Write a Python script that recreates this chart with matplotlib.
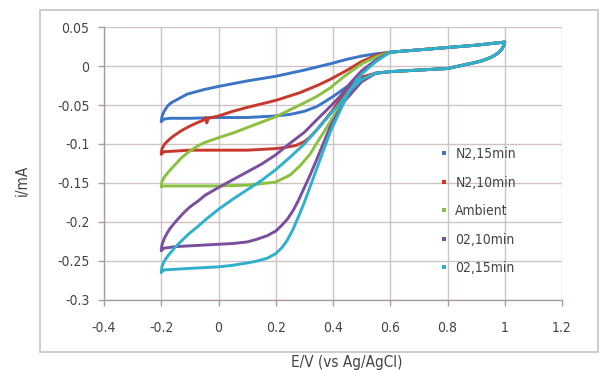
import matplotlib
matplotlib.use("Agg")
import matplotlib.pyplot as plt
from matplotlib.lines import Line2D
from matplotlib.patches import Rectangle
from matplotlib import font_manager

names = {f.name for f in font_manager.fontManager.ttflist}
FONT = ['Liberation Sans Narrow', 'DejaVu Sans'] if 'Liberation Sans Narrow' in names else ['DejaVu Sans']
plt.rcParams['font.family'] = FONT
plt.rcParams['font.stretch'] = 'condensed'

# ---------------- data ----------------
labels = ["N2,15min", "N2,10min", "Ambient", "02,10min", "02,15min"]
colors = ["#3b76c6", "#c8382c", "#8cc040", "#7a4f9e", "#2fb0cc"]

# shared high-potential part of every loop
common_up_x = [0.6, 0.7, 0.8, 0.9, 1.0]
common_up_y = [0.018, 0.021, 0.024, 0.027, 0.031]
common_down_x = [0.997, 0.99, 0.98, 0.965, 0.95, 0.92, 0.9, 0.85, 0.8, 0.7, 0.6, 0.55]
common_down_y = [0.027, 0.022, 0.018, 0.014, 0.011, 0.007, 0.005, 0.001, -0.003, -0.005, -0.007, -0.009]

# N2, 15 min
n2_15_up_x = [-0.2, -0.198, -0.195, -0.19, -0.183, -0.175, -0.165, -0.15, -0.13, -0.11, -0.08, -0.05, 0.0, 0.1, 0.2, 0.3, 0.4, 0.45, 0.5, 0.55]
n2_15_up_y = [-0.071, -0.066, -0.062, -0.058, -0.054, -0.050, -0.047, -0.044, -0.040, -0.036, -0.033, -0.030, -0.026, -0.019, -0.013, -0.005, 0.004, 0.009, 0.013, 0.016]
n2_15_dn_x = [0.5, 0.45, 0.4, 0.37, 0.343, 0.3, 0.25, 0.2, 0.1, 0.0, -0.1, -0.17, -0.19, -0.2]
n2_15_dn_y = [-0.015, -0.026, -0.039, -0.046, -0.052, -0.058, -0.062, -0.064, -0.066, -0.066, -0.067, -0.067, -0.068, -0.071]

# N2, 10 min
n2_10_up_x = [-0.2, -0.198, -0.19, -0.18, -0.165, -0.15, -0.13, -0.1, -0.07, -0.05, -0.045, -0.041, -0.036, 0.0, 0.05, 0.1, 0.2, 0.285, 0.35, 0.39, 0.45, 0.5, 0.55]
n2_10_up_y = [-0.113, -0.107, -0.101, -0.097, -0.092, -0.088, -0.083, -0.077, -0.072, -0.069, -0.066, -0.073, -0.067, -0.064, -0.058, -0.053, -0.044, -0.034, -0.024, -0.017, -0.005, 0.006, 0.014]
n2_10_dn_x = [0.5, 0.45, 0.42, 0.4, 0.37, 0.343, 0.32, 0.3, 0.27, 0.24, 0.2, 0.1, 0.0, -0.1, -0.19, -0.2]
n2_10_dn_y = [-0.014, -0.030, -0.045, -0.056, -0.070, -0.082, -0.091, -0.097, -0.102, -0.104, -0.106, -0.108, -0.108, -0.108, -0.110, -0.113]

# Ambient
amb_up_x = [-0.2, -0.198, -0.19, -0.175, -0.15, -0.13, -0.1, -0.07, -0.047, 0.0, 0.05, 0.1, 0.15, 0.2, 0.25, 0.3, 0.343, 0.39, 0.436, 0.5, 0.55]
amb_up_y = [-0.155, -0.149, -0.143, -0.136, -0.126, -0.118, -0.109, -0.102, -0.098, -0.092, -0.086, -0.079, -0.072, -0.065, -0.056, -0.047, -0.039, -0.028, -0.014, 0.003, 0.012]
amb_dn_x = [0.5, 0.448, 0.401, 0.366, 0.343, 0.32, 0.285, 0.25, 0.2, 0.15, 0.1, 0.0, -0.1, -0.19, -0.2]
amb_dn_y = [-0.018, -0.039, -0.065, -0.086, -0.099, -0.113, -0.128, -0.140, -0.149, -0.151, -0.153, -0.154, -0.154, -0.154, -0.155]

# O2, 10 min
o2_10_up_x = [-0.2, -0.197, -0.19, -0.18, -0.17, -0.15, -0.123, -0.1, -0.07, -0.047, 0.0, 0.05, 0.1, 0.15, 0.2, 0.25, 0.3, 0.343, 0.39, 0.424, 0.46, 0.5, 0.55]
o2_10_up_y = [-0.237, -0.229, -0.222, -0.215, -0.209, -0.200, -0.189, -0.181, -0.173, -0.166, -0.156, -0.146, -0.136, -0.126, -0.114, -0.099, -0.085, -0.069, -0.052, -0.039, -0.022, -0.006, 0.008]
o2_10_dn_x = [0.5, 0.44, 0.39, 0.343, 0.32, 0.3, 0.28, 0.26, 0.24, 0.22, 0.2, 0.17, 0.13, 0.1, 0.05, -0.05, -0.15, -0.19, -0.2]
o2_10_dn_y = [-0.020, -0.045, -0.078, -0.120, -0.140, -0.156, -0.172, -0.186, -0.197, -0.205, -0.212, -0.218, -0.223, -0.226, -0.228, -0.230, -0.232, -0.234, -0.237]

# O2, 15 min
o2_15_up_x = [-0.2, -0.197, -0.19, -0.175, -0.152, -0.13, -0.105, -0.075, -0.047, 0.0, 0.05, 0.1, 0.15, 0.2, 0.25, 0.3, 0.343, 0.39, 0.424, 0.46, 0.5, 0.55]
o2_15_up_y = [-0.265, -0.257, -0.251, -0.243, -0.233, -0.225, -0.216, -0.207, -0.198, -0.184, -0.171, -0.159, -0.147, -0.133, -0.117, -0.100, -0.082, -0.062, -0.048, -0.030, -0.010, 0.006]
o2_15_dn_x = [0.5, 0.459, 0.436, 0.39, 0.35, 0.325, 0.3, 0.28, 0.26, 0.24, 0.22, 0.2, 0.17, 0.13, 0.1, 0.05, 0.0, -0.1, -0.19, -0.2]
o2_15_dn_y = [-0.017, -0.031, -0.048, -0.085, -0.125, -0.150, -0.175, -0.193, -0.210, -0.224, -0.234, -0.241, -0.247, -0.251, -0.253, -0.256, -0.258, -0.260, -0.262, -0.265]

series = [
    (n2_15_up_x, n2_15_up_y, n2_15_dn_x, n2_15_dn_y),
    (n2_10_up_x, n2_10_up_y, n2_10_dn_x, n2_10_dn_y),
    (amb_up_x, amb_up_y, amb_dn_x, amb_dn_y),
    (o2_10_up_x, o2_10_up_y, o2_10_dn_x, o2_10_dn_y),
    (o2_15_up_x, o2_15_up_y, o2_15_dn_x, o2_15_dn_y),
]

x_ticks = [-0.4, -0.2, 0, 0.2, 0.4, 0.6, 0.8, 1, 1.2]
x_ticklabels = ["-0.4", "-0.2", "0", "0.2", "0.4", "0.6", "0.8", "1", "1.2"]
y_ticks = [0.05, 0, -0.05, -0.1, -0.15, -0.2, -0.25, -0.3]
y_ticklabels = ["0.05", "0", "-0.05", "-0.1", "-0.15", "-0.2", "-0.25", "-0.3"]

# ---------------- figure ----------------
W, H = 599, 372
fig = plt.figure(figsize=(W / 100, H / 100), dpi=100)
fig.patch.set_facecolor("white")

# chart area border (Excel style)
fig.add_artist(Rectangle((40 / W, 1 - 352 / H), (598 - 40) / W, (352 - 10) / H,
                         transform=fig.transFigure, fill=False,
                         edgecolor="#c4c4c4", lw=1.2))

ax = fig.add_axes([104 / W, 1 - 299.5 / H, (562 - 104) / W, (299.5 - 27.3) / H])
ax.set_facecolor("white")

for (ux, uy, dx, dy), c in zip(series, colors):
    xs = list(ux) + common_up_x + common_down_x + list(dx)
    ys = list(uy) + common_up_y + common_down_y + list(dy)
    ax.plot(xs, ys, color=c, lw=2.1, solid_joinstyle="round", solid_capstyle="round", zorder=3)

ax.set_xlim(-0.4, 1.2)
ax.set_ylim(-0.3, 0.05)
ax.set_xticks(x_ticks)
ax.set_xticklabels(x_ticklabels)
ax.set_yticks(y_ticks)
ax.set_yticklabels(y_ticklabels)

gridc = "#cfc4c4"
ax.grid(True, color=gridc, lw=1.0, zorder=0)
for s in ["top", "right"]:
    ax.spines[s].set_visible(False)
for s in ["left", "bottom"]:
    ax.spines[s].set_color("#a89c9c")
    ax.spines[s].set_linewidth(1.0)
ax.tick_params(axis="both", direction="out", length=4.5, width=1.0, color="#a89c9c",
               labelsize=10, labelcolor="#444444")
ax.tick_params(axis="y", pad=6)
ax.tick_params(axis="x", pad=11)

fig.text(22 / W, 1 - 180 / H, "i/mA", rotation=90, ha="center", va="center",
         fontsize=11, color="#444444")
fig.text(347 / W, 1 - 362 / H, "E/V (vs Ag/AgCl)", ha="center", va="center",
         fontsize=11, color="#444444")

handles = [Line2D([], [], ls="none", marker="s", ms=3, color=c, markeredgewidth=0) for c in colors]
leg = fig.legend(handles, labels, loc="upper left",
                 bbox_to_anchor=(440 / W, 1 - 147 / H),
                 frameon=False, handlelength=0.6, handletextpad=0.5,
                 labelspacing=1.05, fontsize=10, borderaxespad=0, borderpad=0)
for t in leg.get_texts():
    t.set_color("#444444")

fig.savefig("out.png", dpi=100, facecolor="white")
